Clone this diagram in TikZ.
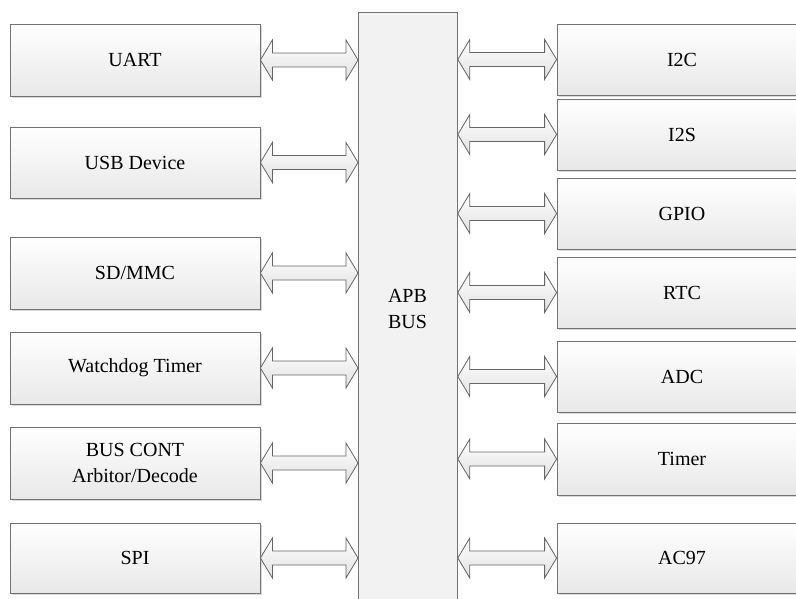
\documentclass[tikz,border=0pt]{standalone}
\usepackage{fontspec}
\setmainfont{Liberation Serif}
\usetikzlibrary{calc,shadows}

\tikzset{
  unit/.style={draw=black!55, line width=0.8pt, top color=white, bottom color=black!9,
    minimum width=250pt, minimum height=72pt, inner sep=0pt, align=center,
    font=\fontsize{20}{26}\selectfont,
    drop shadow={shadow xshift=1.5pt, shadow yshift=-1.5pt, opacity=0.3}},
  busbar/.style={draw=black!55, line width=0.8pt, fill=black!5, inner sep=0pt},
  buslabel/.style={align=center, font=\fontsize{20}{26}\selectfont},
  linkarrow/.style={draw=black!60, line width=0.8pt, top color=white, bottom color=black!12,
    line join=miter}
}

% double-headed block arrow from #1 to #2 (both on the same height)
\newcommand\busarrow[2]{%
  \path[linkarrow] let \p1=(#1), \p2=(#2) in
    (\x1,\y1) -- (\x1+12pt,\y1+20pt) -- (\x1+12pt,\y1+7pt) -- (\x2-12pt,\y1+7pt)
    -- (\x2-12pt,\y1+20pt) -- (\x2,\y1) -- (\x2-12pt,\y1-20pt) -- (\x2-12pt,\y1-7pt)
    -- (\x1+12pt,\y1-7pt) -- (\x1+12pt,\y1-20pt) -- cycle;}

\begin{document}
\begin{tikzpicture}[x=1pt, y=-1pt]
  \useasboundingbox (0,0) rectangle (796,598);
  \clip (0,0) rectangle (796,598);

  % central bus
  \node[busbar, minimum width=99pt, minimum height=600pt, anchor=north west] (bus) at (358,12) {};
  \node[buslabel] (apb) at (407.5,308.5) {APB\\BUS};

  % left-hand peripherals
  \node[unit] (uart)  at (135,60)    {UART};
  \node[unit, minimum height=71pt] (usb) at (135,162.5) {USB Device};
  \node[unit] (sd)    at (135,273)   {SD/MMC};
  \node[unit] (wdt)   at (135,368)   {Watchdog Timer};
  \node[unit] (bcont) at (135,463)   {BUS CONT\\Arbitor/Decode};
  \node[unit, minimum height=70pt] (spi) at (135,558) {SPI};

  % right-hand peripherals
  \node[unit, minimum height=71pt] (i2c)   at (682,59.5)  {I2C};
  \node[unit, minimum height=71pt] (i2s)   at (682,134.5) {I2S};
  \node[unit, minimum height=71pt] (gpio)  at (682,213.5) {GPIO};
  \node[unit, minimum height=71pt] (rtc)   at (682,292.5) {RTC};
  \node[unit, minimum height=71pt] (adc)   at (682,376.5) {ADC};
  \node[unit] (timer) at (682,459)   {Timer};
  \node[unit, minimum height=70pt] (ac97)  at (682,558)   {AC97};

  % links to the bus
  \busarrow{uart.east}{bus.west |- uart.east}
  \busarrow{usb.east}{bus.west |- usb.east}
  \busarrow{sd.east}{bus.west |- sd.east}
  \busarrow{wdt.east}{bus.west |- wdt.east}
  \busarrow{bcont.east}{bus.west |- bcont.east}
  \busarrow{spi.east}{bus.west |- spi.east}

  \busarrow{bus.east |- i2c.west}{i2c.west}
  \busarrow{bus.east |- i2s.west}{i2s.west}
  \busarrow{bus.east |- gpio.west}{gpio.west}
  \busarrow{bus.east |- rtc.west}{rtc.west}
  \busarrow{bus.east |- adc.west}{adc.west}
  \busarrow{bus.east |- timer.west}{timer.west}
  \busarrow{bus.east |- ac97.west}{ac97.west}
\end{tikzpicture}
\end{document}
